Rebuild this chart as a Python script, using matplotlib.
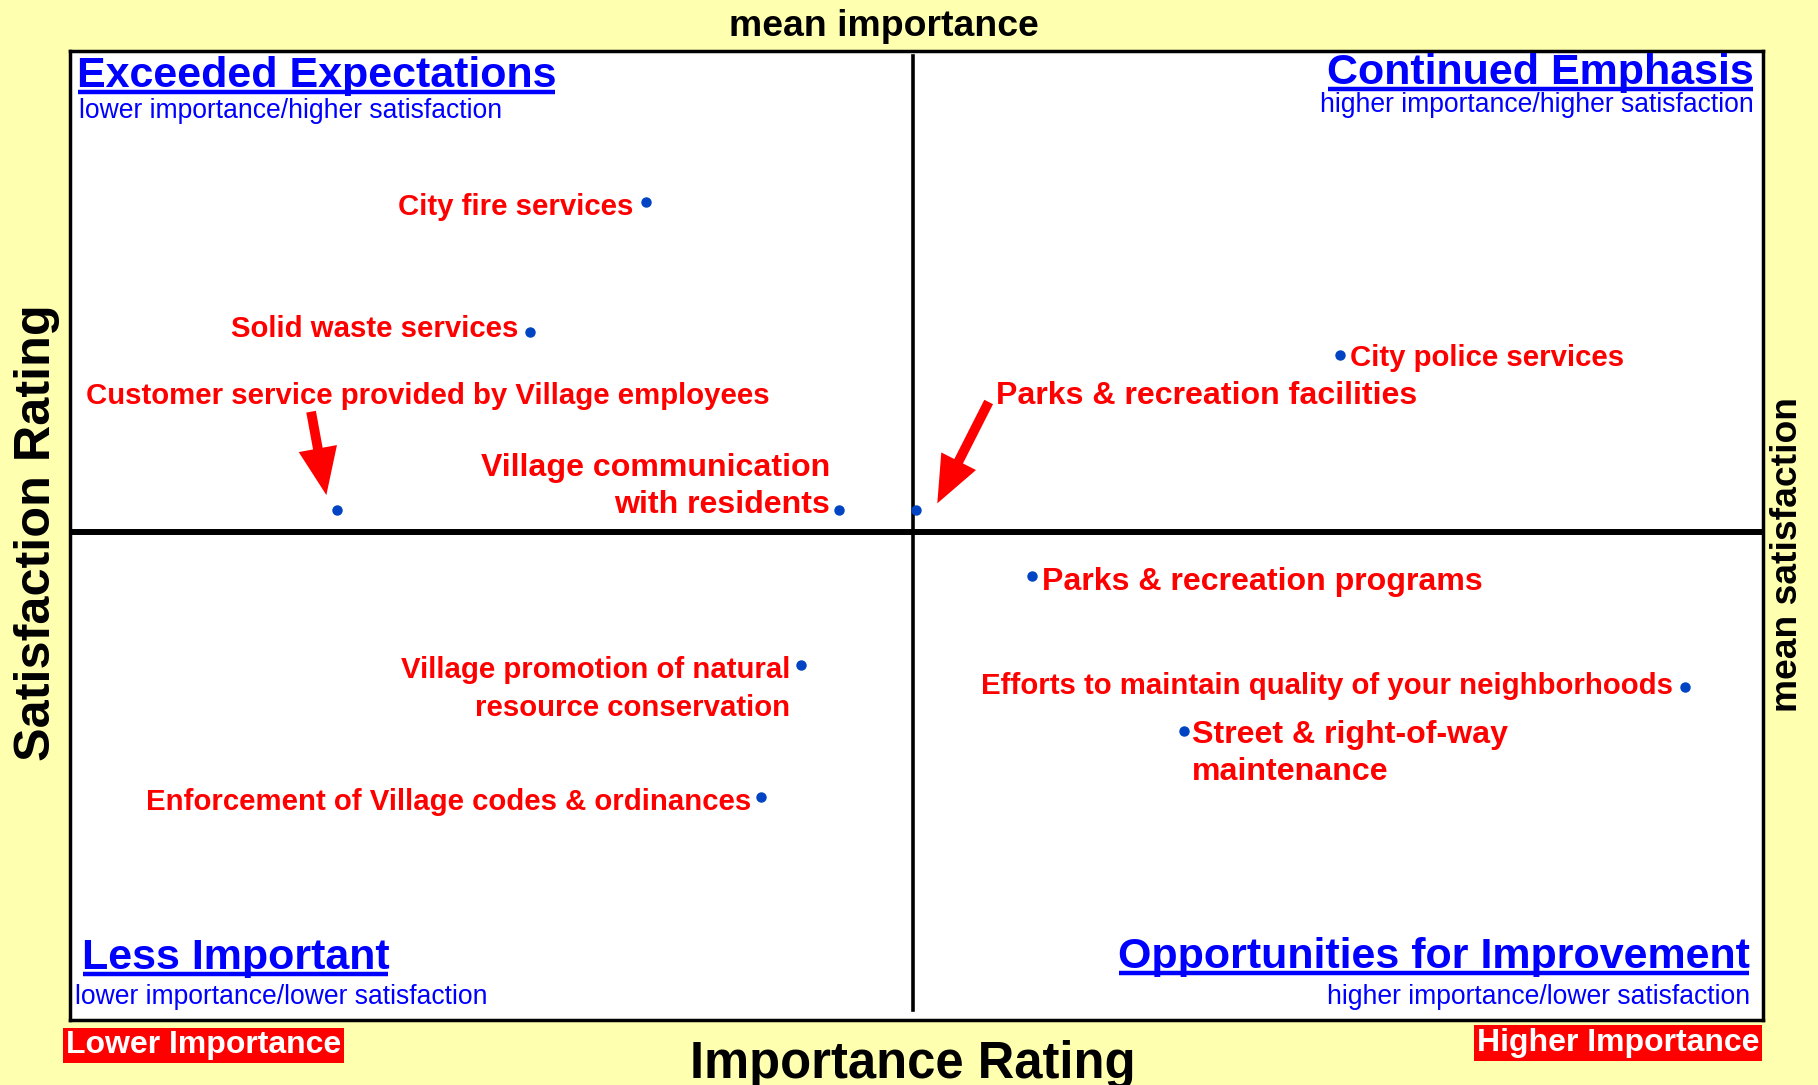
import matplotlib
matplotlib.use("Agg")
import matplotlib.pyplot as plt
from matplotlib.transforms import offset_copy
from matplotlib.lines import Line2D

plt.rcParams['font.family'] = ['Liberation Sans', 'DejaVu Sans']

# ---------------- data ----------------
services = [
    "City fire services",
    "Solid waste services",
    "Customer service provided by Village employees",
    "Village communication\nwith residents",
    "Parks & recreation facilities",
    "City police services",
    "Parks & recreation programs",
    "Efforts to maintain quality of your neighborhoods",
    "Street & right-of-way\nmaintenance",
    "Village promotion of natural\nresource conservation",
    "Enforcement of Village codes & ordinances",
]
importance = [17.0, 13.6, 7.9, 22.7, 25.0, 37.5, 28.4, 47.7, 32.9, 21.6, 20.4]
satisfaction = [92.2, 85.5, 76.3, 76.3, 76.3, 84.3, 72.9, 67.2, 64.9, 68.3, 61.5]
mean_importance = 24.9
mean_satisfaction = 75.2
x_limits = [0, 50]
y_limits = [50, 100]

# label placement (offset in points, horizontal alignment, font size)
label_offsets = [(-9, -3.5), (-9, 2), (65, 82), (-6, 17), (57, 82), (7.5, -2),
                 (7.5, -4.5), (-9, 0.5), (6, -16), (-8, -17), (-7, -3.5)]
label_ha = ['right', 'right', 'center', 'right', 'left', 'left',
            'left', 'right', 'left', 'right', 'right']
label_size = [21.2, 21.2, 21.2, 23.1, 23.1, 21.2, 23.1, 21.2, 23.1, 21.2, 21.2]

# ---------------- figure ----------------
BG = '#FFFFB0'
RED = '#FF0000'
BLUE = '#0000FF'
DOT = '#0044C4'

fig = plt.figure(figsize=(18.18, 10.85), dpi=100, facecolor=BG)
ax = fig.add_axes([0.0385, 0.0599, 0.9312, 0.8931])
ax.set_facecolor('white')
ax.set_xlim(*x_limits)
ax.set_ylim(*y_limits)
ax.set_xticks([])
ax.set_yticks([])
for s in ax.spines.values():
    s.set_linewidth(2.5)
    s.set_color('black')

ax.axhline(mean_satisfaction, xmin=0.002, xmax=0.998, color='black', lw=4.3, zorder=2)
ax.axvline(mean_importance, ymin=0.01, ymax=0.995, color='black', lw=2.6, zorder=2)

ax.plot(importance, satisfaction, 'o', color=DOT, markersize=6.5, zorder=5)

for name, x, y, off, ha, fs in zip(services, importance, satisfaction,
                                   label_offsets, label_ha, label_size):
    ax.annotate(name, (x, y), xytext=off, textcoords='offset points',
                ha=ha, va='center', multialignment=ha,
                color=RED, fontsize=fs, fontweight='bold',
                linespacing=1.43 * 21.2 / fs, zorder=6)

# arrows (tail / tip offsets in points relative to the point they mark)
arrow_specs = [
    (2, (-19, 71), (-8, 11)),
    (4, (52, 78), (15, 5)),
]
for idx, tail, tip in arrow_specs:
    x, y = importance[idx], satisfaction[idx]
    ttail = offset_copy(ax.transData, fig=fig, x=tail[0], y=tail[1], units='points')
    ttip = offset_copy(ax.transData, fig=fig, x=tip[0], y=tip[1], units='points')
    ax.annotate('', xy=(x, y), xycoords=ttip, xytext=(x, y), textcoords=ttail,
                arrowprops=dict(arrowstyle='simple,head_length=3.4,head_width=2.8,tail_width=0.7',
                                mutation_scale=10, color=RED, shrinkA=0, shrinkB=0, lw=0),
                zorder=6)

# quadrant titles
titles = [
    ("Exceeded Expectations", 0.0041, 0.963, 'left'),
    ("Continued Emphasis", 0.9945, 0.966, 'right'),
    ("Less Important", 0.0068, 0.0526, 'left'),
    ("Opportunities for Improvement", 0.9925, 0.0538, 'right'),
]
subtitles = [
    ("lower importance/higher satisfaction", 0.0055, 0.931, 'left'),
    ("higher importance/higher satisfaction", 0.9945, 0.937, 'right'),
    ("lower importance/lower satisfaction", 0.0027, 0.0167, 'left'),
    ("higher importance/lower satisfaction", 0.9925, 0.0167, 'right'),
]
title_texts = []
for txt, x, y, ha in titles:
    t = ax.text(x, y, txt, transform=ax.transAxes, ha=ha, va='baseline',
                color=BLUE, fontsize=31, fontweight='bold', zorder=7)
    title_texts.append((t, x, y))
for txt, x, y, ha in subtitles:
    ax.text(x, y, txt, transform=ax.transAxes, ha=ha, va='baseline',
            color=BLUE, fontsize=19.1, zorder=7)

# outer labels
fig.text(0.486, 0.9758, "mean importance", ha='center', va='center',
         fontsize=26.9, fontweight='bold', color='black')
fig.text(0.0204, 0.509, "Satisfaction Rating", ha='center', va='center', rotation=90,
         fontsize=36.3, fontweight='bold', color='black')
fig.text(0.9833, 0.489, "mean satisfaction", ha='center', va='center', rotation=90,
         fontsize=26.8, fontweight='bold', color='black')
fig.text(0.5019, 0.0065, "Importance Rating", ha='center', va='baseline',
         fontsize=36.5, fontweight='bold', color='black')
fig.text(0.1119, 0.0366, "Lower Importance", ha='center', va='center',
         fontsize=23, fontweight='bold', color='white',
         bbox=dict(boxstyle='square,pad=0.08', fc=RED, ec='none'))
fig.text(0.890, 0.0387, "Higher Importance", ha='center', va='center',
         fontsize=23, fontweight='bold', color='white',
         bbox=dict(boxstyle='square,pad=0.08', fc=RED, ec='none'))

# underline the quadrant titles
fig.canvas.draw()
renderer = fig.canvas.get_renderer()
for t, x, y in title_texts:
    bb = t.get_window_extent(renderer)
    base = ax.transAxes.transform((x, y))[1]
    yy = base - 5
    fig.add_artist(Line2D([bb.x0 + 1, bb.x1 - 1], [yy, yy], transform=None,
                          color=BLUE, lw=3.2, solid_capstyle='butt', zorder=8))

fig.savefig('out.png', dpi=100, facecolor=BG)
